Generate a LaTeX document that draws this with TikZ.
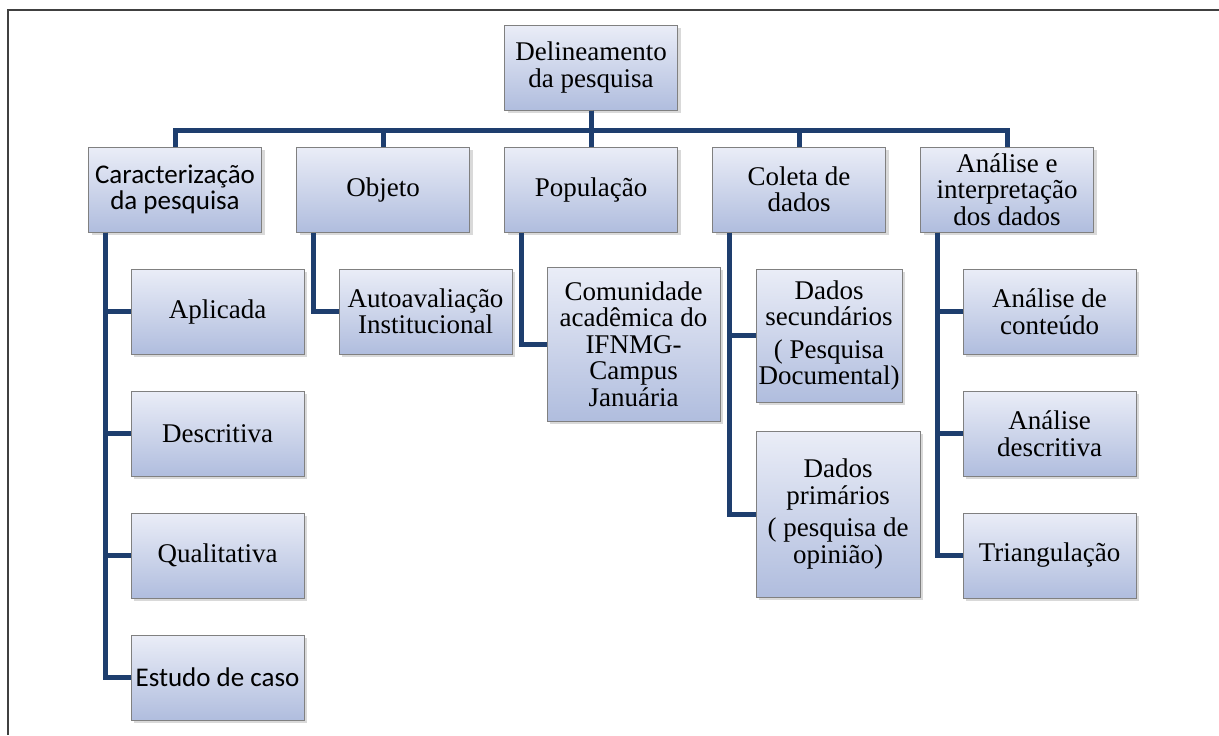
\documentclass[tikz,border=0pt]{standalone}
\usepackage{fontspec}
\setmainfont{Liberation Serif}
\newfontfamily\calibrifont{Carlito}
\usetikzlibrary{calc,shadows}
\definecolor{boxTop}{RGB}{234,237,247}
\definecolor{boxBottom}{RGB}{176,189,222}
\definecolor{boxBorder}{RGB}{128,128,128}
\definecolor{linkBlue}{RGB}{30,62,110}
\definecolor{frameGray}{RGB}{64,64,64}
\tikzset{%
  % Specifications for style of nodes:
     base/.style = {rectangle, draw=boxBorder, line width=0.5pt,
                    top color=boxTop, bottom color=boxBottom,
                    minimum width=86.5pt, minimum height=42.5pt,
                    inner sep=1pt, text centered, align=center,
                    font=\fontsize{13.5pt}{13.25pt}\selectfont,
                    drop shadow={shadow xshift=1.5pt, shadow yshift=-1.5pt,
                                 opacity=0.3}},
    calibriBlock/.style = {base, font=\calibrifont\fontsize{13.5pt}{13.25pt}\selectfont},
    tallBlock/.style = {base, minimum height=77pt},
    link/.style = {draw=linkBlue, line width=2.5pt},
    frameLine/.style = {draw=frameGray, line width=1pt},
}
\begin{document}
\begin{tikzpicture}[node distance=61pt]
  \useasboundingbox (0,0) rectangle (609.5pt,-367.5pt);
  \draw[frameLine] (609.5pt,-5pt) -- (4pt,-5pt) -- (4pt,-367.5pt);

  % Specification of nodes (position, etc.)
  \node (delineamentoBlock) [base] at (295.5pt,-33.75pt)
                              {Delineamento\\ da pesquisa};
  \node (populacaoBlock)    [base, below of=delineamentoBlock] {População};
  \node (objetoBlock)       [base, left of=populacaoBlock, node distance=104pt] {Objeto};
  \node (caracBlock)        [calibriBlock, left of=objetoBlock, node distance=104pt]
                              {Caracterização\\ da pesquisa};
  \node (coletaBlock)       [base, right of=populacaoBlock, node distance=104pt]
                              {Coleta de\\ dados};
  \node (analiseBlock)      [base, right of=coletaBlock, node distance=104pt]
                              {Análise e\\ interpretação\\ dos dados};

  % children of Caracterização
  \node (aplicadaBlock)     [base, below of=caracBlock, xshift=21.25pt] {Aplicada};
  \node (descritivaBlock)   [base, below of=aplicadaBlock] {Descritiva};
  \node (qualitativaBlock)  [base, below of=descritivaBlock] {Qualitativa};
  \node (estudoBlock)       [calibriBlock, below of=qualitativaBlock] {Estudo de caso};

  % children of Objeto and População
  \node (autoavalBlock)     [base, below of=objetoBlock, xshift=21.25pt]
                              {Autoavaliação\\ Institucional};
  \node (comunidadeBlock)   [tallBlock, below of=populacaoBlock, xshift=21.25pt, yshift=-16.25pt]
                              {Comunidade\\ acadêmica do\\ IFNMG-\\ Campus\\ Januária};

  % children of Coleta de dados
  \node (secundariosBlock)  [base, minimum width=73pt, minimum height=66.5pt,
                             below of=coletaBlock, xshift=15pt, yshift=-12pt]
                              {Dados\\ secundários\\[3pt] ( Pesquisa\\ Documental)};
  \node (primariosBlock)    [base, minimum width=82pt, minimum height=83pt,
                             below of=secundariosBlock, xshift=4.5pt, yshift=-28.25pt]
                              {Dados\\ primários\\[3pt] ( pesquisa de\\ opinião)};

  % children of Análise
  \node (conteudoBlock)     [base, below of=analiseBlock, xshift=21.25pt]
                              {Análise de\\ conteúdo};
  \node (descrAnaliseBlock) [base, below of=conteudoBlock] {Análise\\ descritiva};
  \node (triangBlock)       [base, below of=descrAnaliseBlock] {Triangulação};

  % Specification of lines between nodes specified above
  \foreach \b in {caracBlock,objetoBlock,populacaoBlock,coletaBlock,analiseBlock}
    \draw[link] (delineamentoBlock.south) -- ++(0,-10pt) -| (\b.north);

  \coordinate (caracTrunk)   at ($(caracBlock.south west)+(8.75pt,0)$);
  \coordinate (objetoTrunk)  at ($(objetoBlock.south west)+(8.75pt,0)$);
  \coordinate (popTrunk)     at ($(populacaoBlock.south west)+(8.75pt,0)$);
  \coordinate (coletaTrunk)  at ($(coletaBlock.south west)+(8.75pt,0)$);
  \coordinate (analiseTrunk) at ($(analiseBlock.south west)+(8.75pt,0)$);

  \foreach \c in {aplicadaBlock,descritivaBlock,qualitativaBlock,estudoBlock}
    \draw[link] (caracTrunk) |- (\c.west);
  \draw[link] (objetoTrunk) |- (autoavalBlock.west);
  \draw[link] (popTrunk) |- (comunidadeBlock.west);
  \foreach \c in {secundariosBlock,primariosBlock}
    \draw[link] (coletaTrunk) |- (\c.west);
  \foreach \c in {conteudoBlock,descrAnaliseBlock,triangBlock}
    \draw[link] (analiseTrunk) |- (\c.west);

\end{tikzpicture}
\end{document}
